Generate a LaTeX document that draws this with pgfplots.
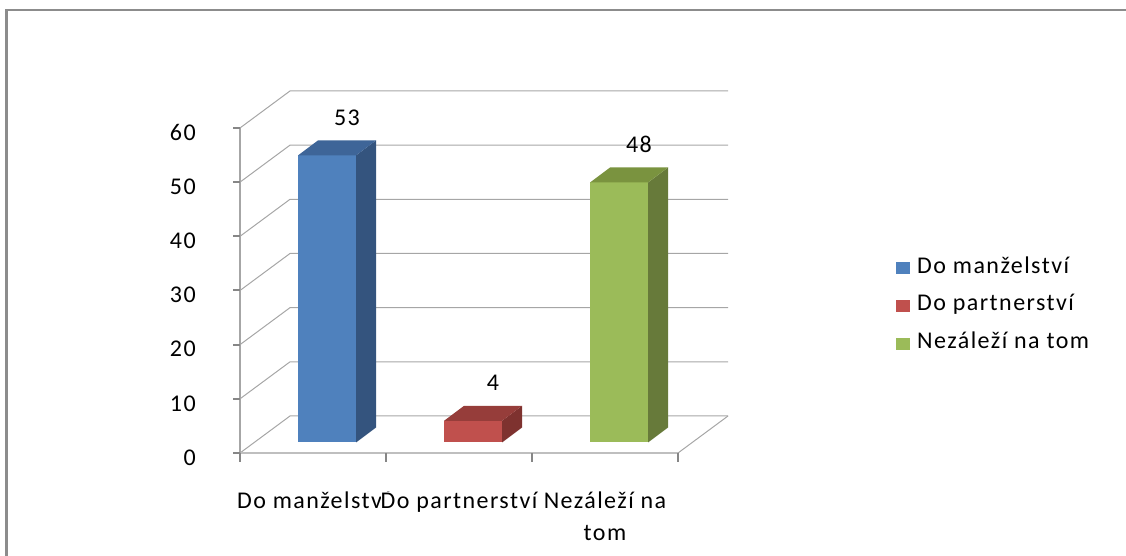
\documentclass[border=0pt]{standalone}
\usepackage{fontspec}
\setmainfont{Carlito}[LetterSpace=6]
\usepackage{pgfplots}
\pgfplotsset{compat=1.18}

\definecolor{framec}{HTML}{8C8C8C}
\definecolor{gridc}{HTML}{A6A6A6}
\definecolor{axc}{HTML}{868686}
\definecolor{floorc}{HTML}{BFBFBF}
\definecolor{bfront}{HTML}{4F81BD}
\definecolor{bside}{HTML}{34547E}
\definecolor{btop}{HTML}{3E6598}
\definecolor{rfront}{HTML}{C0504D}
\definecolor{rside}{HTML}{7E322F}
\definecolor{rtop}{HTML}{963D3A}
\definecolor{gfront}{HTML}{9BBB59}
\definecolor{gside}{HTML}{677A3A}
\definecolor{gtop}{HTML}{7A933F}

\pgfplotsset{sq/.style={legend image code/.code={%
  \fill[##1,draw=none] (0pt,-6pt) rectangle (14pt,6pt);
  \path (21pt,0pt);}}}

\newcommand{\lblfont}{\fontsize{24}{32}\selectfont}

\begin{document}
\begin{tikzpicture}[x=1pt,y=1pt]
\useasboundingbox (0,0) rectangle (1126,556);

% ---- frame and back walls (pixel coordinates, y down) ----
\begin{scope}[y=-1pt, yshift=556pt]
  \draw[framec, line width=2.5pt] (6.5,560) -- (6.5,10) -- (1130,10);
  \foreach \v in {0,...,6} {
    \draw[gridc, line width=1pt]
      (240,{453-54.17*\v}) -- (290,{416-54.17*\v}) -- (728,{416-54.17*\v});
  }
  \draw[gridc, line width=1pt] (678,453) -- (728,416);
\end{scope}

\begin{axis}[
    at={(254pt,113.5pt)}, anchor=south west,
    scale only axis, width=438pt, height=325pt,
    xmin=0.5, xmax=3.5, ymin=0, ymax=60,
    axis lines=left, axis line style={draw=none}, tick style={draw=none},
    clip=false,
    xtick={1,2,3},
    xticklabels={Do manželství, Do partnerství, {Nezáleží na\\tom}},
    xticklabel style={align=center, anchor=north, inner sep=0pt, fill=white,
        xshift=-14pt, yshift=-47pt, font=\lblfont},
    ytick={0,10,...,60},
    yticklabel style={anchor=east, inner sep=0pt, xshift=-56pt, yshift=-15pt,
        font=\lblfont},
    /pgf/number format/assume math mode=true,
    every node near coord/.append style={anchor=center, xshift=20pt, yshift=38pt,
        font=\lblfont, text=black},
    legend style={at={(axis description cs:1.4658,0.42)}, anchor=west,
        draw=none, fill=none, inner sep=0pt, column sep=0pt, row sep=17.5pt,
        font=\lblfont,
        nodes={inner sep=0pt, text height=15pt, text depth=5pt, anchor=west}},
    legend cell align=left,
]

% ---- Do manželství = 53 ----
\addplot[ybar, bar width=58pt, bar shift=0pt, fill=bfront, draw=none, sq,
    nodes near coords] coordinates {(1,53)};
\addlegendentry{Do manželství}
% ---- Do partnerství = 4 ----
\addplot[ybar, bar width=58pt, bar shift=0pt, fill=rfront, draw=none, sq,
    nodes near coords] coordinates {(2,4)};
\addlegendentry{Do partnerství}
% ---- Nezáleží na tom = 48 ----
\addplot[ybar, bar width=58pt, bar shift=0pt, fill=gfront, draw=none, sq,
    nodes near coords] coordinates {(3,48)};
\addlegendentry{Nezáleží na tom}

% ---- 3D side and top faces ----
\addplot[fill=bside, draw=none, forget plot] coordinates
    {(1.19863,0) (1.33562,2.7692) (1.33562,55.7692) (1.19863,53)} -- cycle;
\addplot[fill=btop, draw=none, forget plot] coordinates
    {(0.80137,53) (1.19863,53) (1.33562,55.7692) (0.93836,55.7692)} -- cycle;
\addplot[fill=rside, draw=none, forget plot] coordinates
    {(2.19863,0) (2.33562,2.7692) (2.33562,6.7692) (2.19863,4)} -- cycle;
\addplot[fill=rtop, draw=none, forget plot] coordinates
    {(1.80137,4) (2.19863,4) (2.33562,6.7692) (1.93836,6.7692)} -- cycle;
\addplot[fill=gside, draw=none, forget plot] coordinates
    {(3.19863,0) (3.33562,2.7692) (3.33562,50.7692) (3.19863,48)} -- cycle;
\addplot[fill=gtop, draw=none, forget plot] coordinates
    {(2.80137,48) (3.19863,48) (3.33562,50.7692) (2.93836,50.7692)} -- cycle;
\end{axis}

% ---- front axis lines and ticks ----
\begin{scope}[y=-1pt, yshift=556pt]
  \draw[floorc, line width=1.5pt] (240,453) -- (678,453);
  \draw[gridc, line width=1.5pt] (240,453) -- (240,128);
  \foreach \v in {0,...,6} {
    \draw[axc, line width=2pt] (233,{453-54.17*\v}) -- (240,{453-54.17*\v});
  }
  \foreach \x in {240,386,532,678} {
    \draw[axc, line width=2pt] (\x,453) -- (\x,462);
  }
\end{scope}
\end{tikzpicture}
\end{document}
